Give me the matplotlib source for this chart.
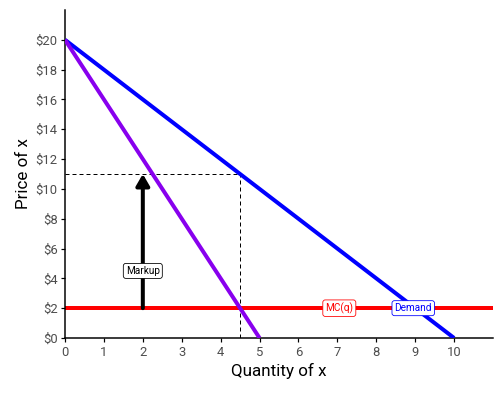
import numpy as np
import matplotlib.pyplot as plt

# data
q = [0, 10]
demand = [20, 0]
mr_q = [0, 5]
mr = [20, 0]
mc = 2
q_star = 4.5
p_star = 11
x_ticks = list(range(0, 11))
y_ticks = list(range(0, 21, 2))

plt.rcParams['font.family'] = ['Roboto', 'DejaVu Sans']

fig = plt.figure(figsize=(7, 5.5), dpi=72)
ax = fig.add_axes([65/504, 58/396, 428/504, 328/396])

ax.plot(q, demand, color='#0000ff', lw=4, solid_capstyle='butt', zorder=3)
ax.plot(mr_q, mr, color='#8800ee', lw=4, solid_capstyle='butt', zorder=3)
ax.axhline(mc, color='#ff0000', lw=4, zorder=2)

ax.plot([q_star, q_star], [0, p_star], color='black', lw=1, ls=(0, (4, 3)))
ax.plot([0, q_star], [p_star, p_star], color='black', lw=1, ls=(0, (4, 3)))

ax.annotate('', xy=(2, p_star), xytext=(2, mc),
            arrowprops=dict(arrowstyle='-|>,head_width=0.55,head_length=0.95',
                        color='black', lw=4, shrinkA=0, shrinkB=0,
                        joinstyle='round'), zorder=4)

ax.text(2, 4.5, 'Markup', fontsize=10, ha='center', va='center', zorder=5,
        bbox=dict(boxstyle='round,pad=0.25', fc='white', ec='black', lw=0.8))
ax.text(7.05, 2, 'MC(q)', fontsize=10, color='#ff0000', ha='center', va='center', zorder=5,
        bbox=dict(boxstyle='round,pad=0.25', fc='white', ec='#ff0000', lw=0.8))
ax.text(8.95, 2, 'Demand', fontsize=10, color='#0000ff', ha='center', va='center', zorder=5,
        bbox=dict(boxstyle='round,pad=0.25', fc='white', ec='#0000ff', lw=0.8))

ax.set_xlim(0, 11)
ax.set_ylim(0, 22)
ax.set_xticks(x_ticks)
ax.set_yticks(y_ticks)
ax.set_yticklabels(['$' + str(v) for v in y_ticks])
ax.tick_params(labelsize=13, labelcolor='#4d4d4d', color='black', length=4, width=1.2)
ax.spines['top'].set_visible(False)
ax.spines['right'].set_visible(False)
ax.spines['left'].set_linewidth(1.5)
ax.spines['bottom'].set_linewidth(1.5)
ax.set_xlabel('Quantity of x', fontsize=17, labelpad=4)
ax.set_ylabel('Price of x', fontsize=17, labelpad=4)

fig.savefig('out.png', dpi=72)
